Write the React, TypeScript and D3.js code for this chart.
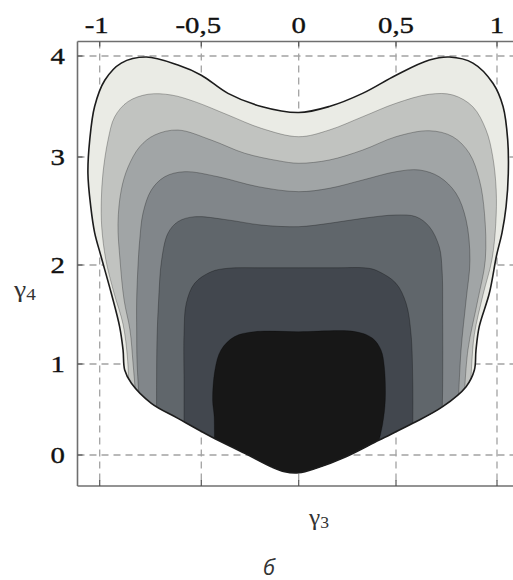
import React from "react";
import * as d3 from "d3";

type Pt = [number, number];

// axis ticks
const X_TICKS = [-1, -0.5, 0, 0.5, 1];
const X_TICK_LABELS = ["-1", "-0,5", "0", "0,5", "1"];
const Y_TICKS = [0, 1, 2, 3, 4];
const Y_TICK_LABELS = ["0", "1", "2", "3", "4"];

// outer boundary of the admissible (γ3, γ4) region
const OUTER: Pt[] = [
  [0, -0.195], [-0.072, -0.184], [-0.141, -0.129], [-0.277, 0.019], [-0.449, 0.201],
  [-0.615, 0.403], [-0.746, 0.568], [-0.844, 0.788], [-0.877, 0.934], [-0.885, 1.14],
  [-0.902, 1.377], [-0.943, 1.714], [-0.995, 2.09], [-1.025, 2.3], [-1.044, 2.54],
  [-1.058, 2.85], [-1.049, 3.17], [-1.025, 3.5], [-0.975, 3.76], [-0.894, 3.93],
  [-0.771, 3.99], [-0.615, 3.91], [-0.5, 3.81], [-0.363, 3.63], [-0.192, 3.5],
  [0, 3.44], [0.157, 3.5], [0.328, 3.63], [0.5, 3.81], [0.665, 3.96],
  [0.764, 3.99], [0.881, 3.93], [0.98, 3.73], [1.03, 3.5], [1.053, 3.17],
  [1.056, 2.85], [1.045, 2.54], [1.025, 2.3], [0.998, 2.09], [0.962, 1.714],
  [0.912, 1.377], [0.896, 1.141], [0.888, 0.934], [0.847, 0.751], [0.731, 0.531],
  [0.583, 0.348], [0.414, 0.165], [0.243, -0.019], [0.089, -0.146],
];

// inner level curves, each running from its lower-left end over the top to its lower-right end
const LEVEL_2: Pt[] = [
  [-0.855, 0.604], [-0.863, 1.05], [-0.885, 1.4], [-0.93, 1.72], [-0.97, 2.05],
  [-0.99, 2.35], [-0.992, 2.6], [-0.984, 2.849], [-0.959, 3.168], [-0.926, 3.399],
  [-0.861, 3.548], [-0.762, 3.621], [-0.648, 3.614], [-0.532, 3.548], [-0.363, 3.416],
  [-0.192, 3.284], [0, 3.201], [0.157, 3.267], [0.329, 3.399], [0.5, 3.532],
  [0.665, 3.621], [0.781, 3.614], [0.88, 3.498], [0.946, 3.267], [0.979, 3.003],
  [0.996, 2.694], [0.994, 2.386], [0.975, 2.05], [0.931, 1.7], [0.888, 1.3],
  [0.875, 1.0], [0.867, 0.604],
];
const LEVEL_3: Pt[] = [
  [-0.821, 0.604], [-0.836, 1.01], [-0.851, 1.343], [-0.88, 1.646], [-0.9, 2.046],
  [-0.91, 2.386], [-0.894, 2.694], [-0.861, 2.904], [-0.803, 3.102], [-0.729, 3.218],
  [-0.615, 3.267], [-0.449, 3.168], [-0.277, 3.037], [-0.106, 2.966], [0, 2.942],
  [0.157, 2.972], [0.329, 3.069], [0.5, 3.201], [0.665, 3.26], [0.781, 3.201],
  [0.863, 3.037], [0.913, 2.787], [0.938, 2.479], [0.942, 2.046], [0.905, 1.646],
  [0.856, 1.141], [0.837, 0.604],
];
const LEVEL_4: Pt[] = [
  [-0.802, 0.495], [-0.816, 1.01], [-0.818, 1.343], [-0.818, 1.646], [-0.81, 2.046],
  [-0.803, 2.231], [-0.787, 2.479], [-0.746, 2.694], [-0.68, 2.817], [-0.582, 2.864],
  [-0.414, 2.817], [-0.208, 2.725], [0, 2.679], [0.157, 2.71], [0.329, 2.787],
  [0.5, 2.864], [0.615, 2.88], [0.714, 2.817], [0.797, 2.664], [0.847, 2.417],
  [0.866, 2.046], [0.847, 1.646], [0.822, 1.141], [0.807, 0.495],
];
const LEVEL_5: Pt[] = [
  [-0.72, 0.385], [-0.72, 0.8], [-0.718, 1.25], [-0.71, 1.646], [-0.695, 2.05],
  [-0.664, 2.294], [-0.615, 2.401], [-0.533, 2.447], [-0.363, 2.417], [-0.192, 2.37],
  [0, 2.355], [0.157, 2.386], [0.329, 2.432], [0.5, 2.463], [0.599, 2.447],
  [0.665, 2.355], [0.714, 2.169], [0.728, 1.949], [0.731, 1.478], [0.731, 0.788],
  [0.728, 0.385],
];
const LEVEL_6: Pt[] = [
  [-0.585, 0.275], [-0.585, 0.788], [-0.585, 1.31], [-0.574, 1.613], [-0.533, 1.815],
  [-0.449, 1.932], [-0.363, 1.967], [-0.18, 1.972], [0, 1.972], [0.18, 1.972],
  [0.36, 1.967], [0.414, 1.932], [0.5, 1.815], [0.55, 1.613], [0.574, 1.31],
  [0.583, 0.788], [0.583, 0.275],
];
const LEVEL_7: Pt[] = [
  [-0.433, 0.11], [-0.434, 0.421], [-0.442, 0.604], [-0.43, 0.934], [-0.399, 1.141],
  [-0.331, 1.275], [-0.228, 1.326], [0, 1.326], [0.294, 1.326], [0.38, 1.259],
  [0.423, 1.141], [0.44, 0.97], [0.445, 0.604], [0.432, 0.348], [0.408, 0.11],
];

const LEVELS: Pt[][] = [LEVEL_2, LEVEL_3, LEVEL_4, LEVEL_5, LEVEL_6, LEVEL_7];
const OUTER_FILL = "#eaebe5";
const LEVEL_FILLS = ["#c1c3c0", "#a1a5a6", "#81868a", "#60666b", "#42474e", "#171717"];

const W = 513;
const H = 580;
const FRAME = { left: 77.5, top: 41.5, bottom: 486 };

export default function App() {
  const x = d3.scaleLinear().domain(X_TICKS).range([99.7, 201.3, 298.7, 396, 497]);
  const y = d3.scaleLinear().domain(Y_TICKS).range([455, 364, 265, 157, 56]);

  const closed = d3
    .line<Pt>()
    .x((d) => x(d[0]))
    .y((d) => y(d[1]))
    .curve(d3.curveCatmullRomClosed.alpha(0.5));
  const open = d3
    .line<Pt>()
    .x((d) => x(d[0]))
    .y((d) => y(d[1]))
    .curve(d3.curveCatmullRom.alpha(0.5));

  const outerPath = closed(OUTER) || "";
  // each level is closed well below the outer boundary, then clipped by it
  const levelPath = (pts: Pt[]) => `${open(pts)}L${x(0)},${y(-0.9)}Z`;

  const serif = "'Liberation Serif', 'Times New Roman', serif";
  const grid = "#a3a3a3";
  const axis = "#6f6f6f";
  const stretch = "scale(1.2,1)";

  return (
    <svg
      width={W}
      height={H}
      viewBox={`0 0 ${W} ${H}`}
      style={{ position: "absolute", left: 0, top: 0, background: "#fff" }}
    >
      <defs>
        <clipPath id="region">
          <path d={outerPath} />
        </clipPath>
      </defs>

      {/* dashed grid */}
      <g stroke={grid} strokeWidth={1.3} strokeDasharray="7 5" fill="none">
        {X_TICKS.map((t) => (
          <line key={`gx${t}`} x1={x(t)} x2={x(t)} y1={FRAME.top} y2={FRAME.bottom} />
        ))}
        {Y_TICKS.map((t) => (
          <line key={`gy${t}`} x1={FRAME.left} x2={W + 10} y1={y(t)} y2={y(t)} />
        ))}
      </g>

      {/* filled level bands */}
      <path d={outerPath} fill={OUTER_FILL} />
      <g clipPath="url(#region)">
        {LEVELS.map((pts, i) => (
          <path key={`f${i}`} d={levelPath(pts)} fill={LEVEL_FILLS[i]} />
        ))}
        {LEVELS.map((pts, i) => (
          <path
            key={`s${i}`}
            d={open(pts) || ""}
            fill="none"
            stroke="#000"
            strokeOpacity={0.3}
            strokeWidth={0.9}
          />
        ))}
      </g>
      <path d={outerPath} fill="none" stroke="#1c1c1c" strokeWidth={1.6} />

      {/* frame */}
      <g stroke={axis} strokeWidth={1.6} fill="none">
        <line x1={FRAME.left} x2={W + 10} y1={FRAME.top} y2={FRAME.top} />
        <line x1={FRAME.left} x2={W + 10} y1={FRAME.bottom} y2={FRAME.bottom} />
        <line x1={FRAME.left} x2={FRAME.left} y1={FRAME.top} y2={FRAME.bottom} />
      </g>
      <g stroke="#555" strokeWidth={1.2}>
        {X_TICKS.map((t) => (
          <g key={`tx${t}`}>
            <line x1={x(t)} x2={x(t)} y1={FRAME.top} y2={FRAME.top + 5} />
            <line x1={x(t)} x2={x(t)} y1={FRAME.bottom} y2={FRAME.bottom - 6} />
          </g>
        ))}
        {Y_TICKS.map((t) => (
          <line key={`ty${t}`} x1={FRAME.left} x2={FRAME.left + 5} y1={y(t)} y2={y(t)} />
        ))}
      </g>

      {/* tick labels */}
      <g style={{ fontFamily: serif }} fontSize={24} fill="#111" stroke="#111" strokeWidth={0.35}>
        {X_TICKS.map((t, i) => (
          <text
            key={`lx${t}`}
            transform={`translate(${x(t) + (t < 0 ? -3 : 0)},33) ${stretch}`}
            textAnchor="middle"
          >
            {X_TICK_LABELS[i]}
          </text>
        ))}
        {Y_TICKS.map((t, i) => (
          <text
            key={`ly${t}`}
            transform={`translate(65,${y(t)}) ${stretch}`}
            dy="0.34em"
            textAnchor="end"
          >
            {Y_TICK_LABELS[i]}
          </text>
        ))}
      </g>

      {/* axis titles */}
      <text
        transform={`translate(14,297) ${stretch}`}
        style={{ fontFamily: serif }}
        fontSize={23}
        fill="#333"
      >
        γ<tspan fontSize={16} dy={3}>4</tspan>
      </text>
      <text
        transform={`translate(309,525) scale(1.1,1)`}
        style={{ fontFamily: serif }}
        fontSize={23}
        fill="#333"
      >
        γ<tspan fontSize={16} dy={3}>3</tspan>
      </text>
      <text
        x={269}
        y={575}
        style={{ fontFamily: "'Open Sans', 'DejaVu Sans', sans-serif" }}
        fontStyle="italic"
        fontSize={22}
        fill="#333"
        textAnchor="middle"
      >
        б
      </text>
    </svg>
  );
}
